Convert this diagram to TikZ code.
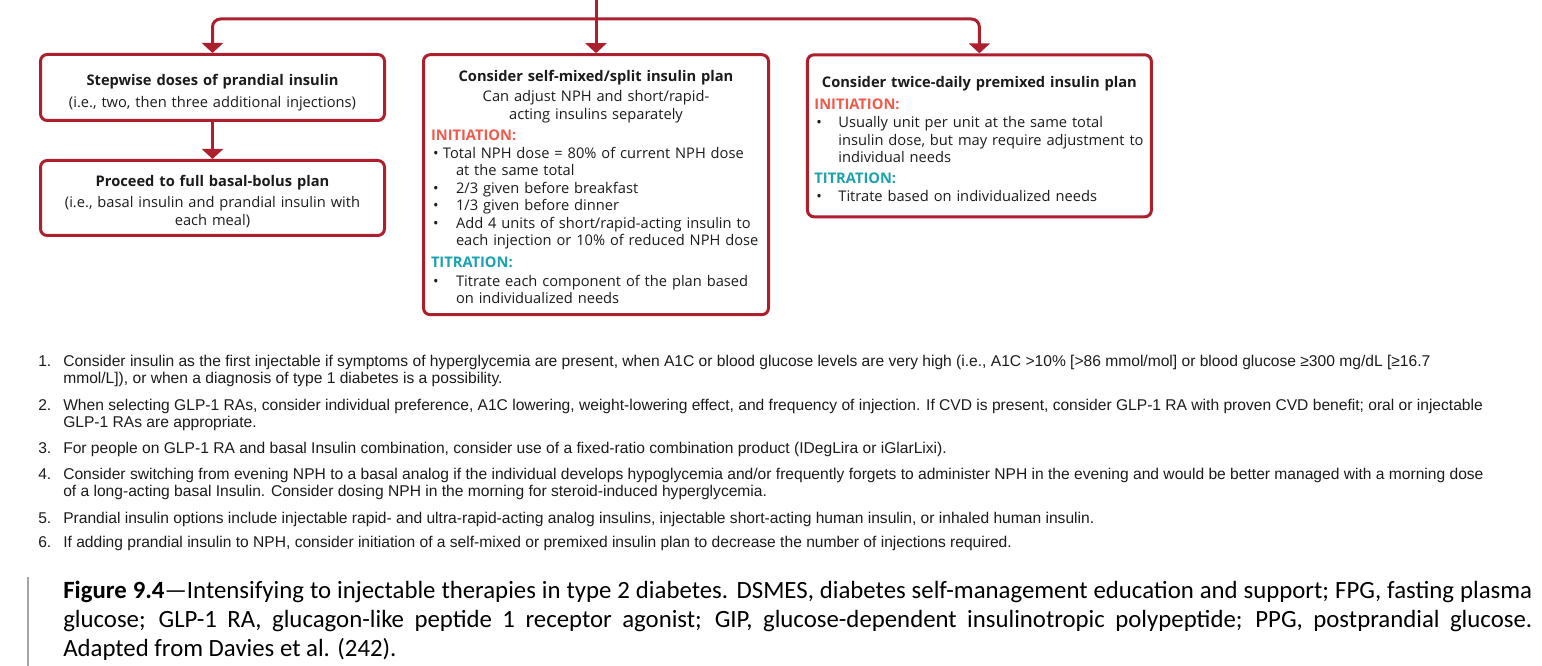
\documentclass[tikz,border=0pt]{standalone}
\usepackage{fontspec}
\setmainfont{Open Sans}
\newfontfamily\notefont{Liberation Sans}
\newfontfamily\capfont{Carlito}
\usepackage{tikz}
\usetikzlibrary{positioning, arrows.meta, calc}
\definecolor{planRed}{HTML}{AE1F2E}
\definecolor{initRed}{HTML}{F15A4A}
\definecolor{titrTeal}{HTML}{1CA1AF}
\definecolor{inkDark}{HTML}{1B1B1B}
\definecolor{barGray}{HTML}{A5A5A5}

\newcommand{\inithead}{\par\noindent\textcolor{initRed}{\bfseries INITIATION:}\par}
\newcommand{\titrhead}{\par\noindent\textcolor{titrTeal}{\bfseries TITRATION:}\par}
% bullet line: #1 = text offset, #2 = hang of wrapped lines
\newcommand{\bulhang}[3]{\par\noindent\hangindent=#2\hangafter=1
  \makebox[#1][l]{\hspace{1.5pt}\textbullet}#3\par}
\newcommand{\bulline}[2][18.75pt]{\bulhang{#1}{#1}{#2}}
% strut that pushes the first line down
\newcommand{\toppad}[1]{\rule{0pt}{#1}}

\tikzset{
  plan/.style={draw=planRed, line width=2.25pt, rounded corners=5pt,
    inner sep=0pt, text=inkDark, text width=247.5pt,
    font=\fontsize{11}{13.1}\selectfont},
  link/.style={draw=planRed, line width=2.25pt},
  flow/.style={link, -{Triangle[width=15.75pt, length=7.5pt]}},
  note/.style={anchor=base west, inner sep=0pt, text=inkDark,
    font=\notefont\fontsize{11.7}{13}\selectfont},
  capline/.style={anchor=base west, inner sep=0pt, text=black,
    font=\capfont\fontsize{18.6}{21.75}\selectfont}
}

\begin{document}
\begin{tikzpicture}[x=0.75pt, y=-0.75pt]
  \useasboundingbox (0,0) rectangle (1542,666);

  % ---- the three plans ----
  \node[plan, align=center, minimum width=258pt, minimum height=49.5pt]
    (stepwise) at (212.5,87.5)
    {\toppad{15.5pt}\textbf{Stepwise doses of prandial insulin}\\[3.4pt]
     (i.e., two, then three additional injections)};
  \node[plan, align=center, minimum width=258pt, minimum height=56.25pt]
    (basalbolus) at (212.5,198)
    {\toppad{13.2pt}\textbf{Proceed to full basal-bolus plan}\\[3.2pt]
     (i.e., basal insulin and prandial insulin with\\each meal)};

  \node[plan, align=left, minimum width=258.75pt, minimum height=195pt]
    (selfmix) at (596,184.7) {%
    {\centering\toppad{11.5pt}\bfseries Consider self-mixed/split insulin plan\par}
    \vspace{2.5pt}
    {\centering Can adjust NPH and short/rapid-\\acting insulins separately\par}
    \vspace{3pt}
    \inithead
    \bulhang{9pt}{18.75pt}{Total NPH dose = 80\% of current NPH dose\newline at the same total}
    \bulline{2/3 given before breakfast}
    \bulline{1/3 given before dinner}
    \bulline{Add 4 units of short/rapid-acting insulin to\newline each injection or 10\% of reduced NPH dose}
    \vspace{3.2pt}
    \titrhead
    \vspace{1pt}
    \bulline{Titrate each component of the plan based\newline on individualized needs}};

  \node[plan, align=left, minimum width=258pt, minimum height=121.5pt]
    (premix) at (979.4,135.8) {%
    {\centering\toppad{12.8pt}\bfseries Consider twice-daily premixed insulin plan\par}
    \vspace{3.4pt}
    \inithead
    \vspace{0.6pt}
    \bulline[18pt]{Usually unit per unit at the same total\newline insulin dose, but may require adjustment to\newline individual needs}
    \vspace{2.6pt}
    \titrhead
    \bulline[18pt]{Titrate based on individualized needs}};

  % ---- connectors ----
  \coordinate (feed) at (596,0);
  \coordinate (split) at (596,19);
  \draw[link] (feed) -- (split);
  \draw[flow, rounded corners=6pt] (split) -| (stepwise);
  \draw[flow, rounded corners=6pt] (split) -| (premix);
  \draw[flow] (split) -- (selfmix);
  \draw[flow] (stepwise) -- (basalbolus);

  % ---- footnotes ----
  \node[note] (num1) at (38,366.5) {1.};
  \node[note] (note1a) at (63,366.5) {Consider insulin as the first injectable if symptoms of hyperglycemia are present, when A1C or blood glucose levels are very high (i.e., A1C >10\% [>86 mmol/mol] or blood glucose ≥300 mg/dL [≥16.7};
  \node[note] (note1b) at (63,384) {mmol/L]), or when a diagnosis of type 1 diabetes is a possibility.};
  \node[note] (num2) at (38,410.7) {2.};
  \node[note] (note2a) at (63,410.7) {When selecting GLP-1 RAs, consider individual preference, A1C lowering, weight-lowering effect, and frequency of injection. If CVD is present, consider GLP-1 RA with proven CVD benefit; oral or injectable};
  \node[note] (note2b) at (63,427.3) {GLP-1 RAs are appropriate.};
  \node[note] (num3) at (38,453.3) {3.};
  \node[note] (note3) at (63,453.3) {For people on GLP-1 RA and basal Insulin combination, consider use of a fixed-ratio combination product (IDegLira or iGlarLixi).};
  \node[note] (num4) at (38,479.3) {4.};
  \node[note] (note4a) at (63,479.3) {Consider switching from evening NPH to a basal analog if the individual develops hypoglycemia and/or frequently forgets to administer NPH in the evening and would be better managed with a morning dose};
  \node[note] (note4b) at (63,496.7) {of a long-acting basal Insulin. Consider dosing NPH in the morning for steroid-induced hyperglycemia.};
  \node[note] (num5) at (38,523.3) {5.};
  \node[note] (note5) at (63,523.3) {Prandial insulin options include injectable rapid- and ultra-rapid-acting analog insulins, injectable short-acting human insulin, or inhaled human insulin.};
  \node[note] (num6) at (38,547.3) {6.};
  \node[note] (note6) at (63,547.3) {If adding prandial insulin to NPH, consider initiation of a self-mixed or premixed insulin plan to decrease the number of injections required.};

  % ---- caption ----
  \draw[barGray, line width=1.5pt] (28,577) -- (28,666);
  \node[capline] (cap1) at (63,598.5) {\makebox[1101.75pt][s]{\textbf{Figure 9.4}—Intensifying to injectable therapies in type 2 diabetes. DSMES, diabetes self-management education and support; FPG, fasting plasma}};
  \node[capline] (cap2) at (63,627.5) {\makebox[1101.75pt][s]{glucose; GLP-1 RA, glucagon-like peptide 1 receptor agonist; GIP, glucose-dependent insulinotropic polypeptide; PPG, postprandial glucose.}};
  \node[capline] (cap3) at (63,656.5) {Adapted from Davies et al. (242).};
\end{tikzpicture}
\end{document}
